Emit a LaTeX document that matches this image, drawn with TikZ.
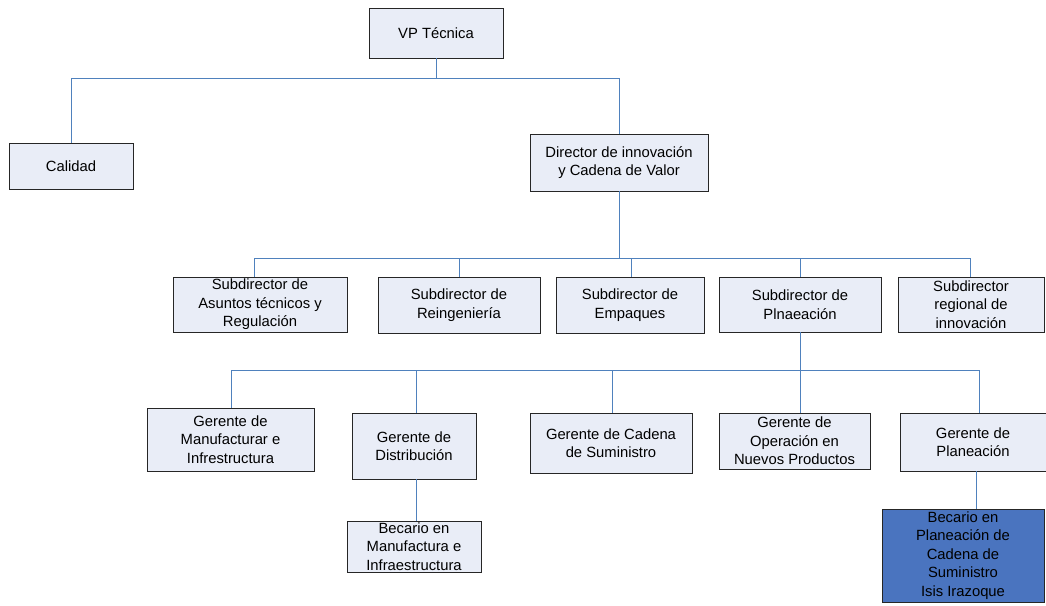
\documentclass[tikz,border=0pt]{standalone}
\usepackage{fontspec}
\setmainfont{Liberation Sans}
\usetikzlibrary{shadows}
\definecolor{linec}{HTML}{4F81BD}
\definecolor{boxfill}{HTML}{E9EDF7}
\definecolor{darkfill}{HTML}{4A74BF}
\tikzset{
  orgbox/.style={draw=black!85, line width=0.9pt, fill=boxfill, align=center, inner sep=0pt,
    font=\fontsize{14.8}{18.5}\selectfont,
    drop shadow={shadow xshift=1.2pt, shadow yshift=-1.2pt, fill=black!45, opacity=1}},
  conn/.style={draw=linec, line width=1pt}
}
\begin{document}
\begin{tikzpicture}[x=1pt,y=-1pt]
\useasboundingbox (0,0) rectangle (1046,605);
% level 0
\node[orgbox, minimum width=134pt, minimum height=50pt] (vp) at (436,33) {VP Técnica};
% level 1
\node[orgbox, minimum width=124pt, minimum height=46pt] (cal) at (71,166) {Calidad};
\node[orgbox, minimum width=178pt, minimum height=57pt] (dir) at (619,162.5) {Director de innovación\\y Cadena de Valor};
% level 2
\node[orgbox, minimum width=174pt, minimum height=55pt] (s1) at (260,304.5) {Subdirector de\\Asuntos técnicos y\\Regulación};
\node[orgbox, minimum width=162pt, minimum height=56pt] (s2) at (459,305) {Subdirector de\\Reingeniería};
\node[orgbox, minimum width=148pt, minimum height=56pt] (s3) at (630,305) {Subdirector de\\Empaques};
\node[orgbox, minimum width=162pt, minimum height=55pt] (s4) at (800,304.5) {Subdirector de\\Plnaeación};
\node[orgbox, minimum width=146pt, minimum height=55pt] (s5) at (971,304.5) {Subdirector\\regional de\\innovación};
% level 3
\node[orgbox, minimum width=167pt, minimum height=63pt] (g1) at (230.5,439.5) {Gerente de\\Manufacturar e\\Infrestructura};
\node[orgbox, minimum width=124pt, minimum height=66pt] (g2) at (414,446) {Gerente de\\Distribución};
\node[orgbox, minimum width=162pt, minimum height=60pt] (g3) at (611,443) {Gerente de Cadena\\de Suministro};
\node[orgbox, minimum width=151pt, minimum height=56pt] (g4) at (794.5,441) {Gerente de\\Operación en\\Nuevos Productos};
\node[orgbox, minimum width=146pt, minimum height=58pt] (g5) at (973,442) {Gerente de\\Planeación};
% level 4
\node[orgbox, minimum width=134pt, minimum height=51pt] (b1) at (414,546.5) {Becario en\\Manufactura e\\Infraestructura};
\node[orgbox, fill=darkfill, minimum width=162pt, minimum height=93pt] (b2) at (963,555.5) {Becario en\\Planeación de\\Cadena de\\Suministro\\Isis Irazoque};
% bus coordinates
\coordinate (bus0) at (436,78);
\coordinate (bus1) at (619,258);
\coordinate (bus2) at (800,370);
% connectors
\draw[conn] (vp.south) -- (bus0);
\draw[conn] (bus0) -| (cal.north);
\draw[conn] (bus0) -| (dir.north);
\draw[conn] (dir.south) -- (bus1);
\foreach \n/\x in {s1/254,s2/459,s3/631,s4/800,s5/970}{
  \draw[conn] (bus1) -| (\n.north -| \x,0);
}
\draw[conn] (s4.south) -- (bus2);
\foreach \n/\x in {g1/231,g2/416,g3/612,g4/800,g5/979}{
  \draw[conn] (bus2) -| (\n.north -| \x,0);
}
\draw[conn] (g2.south -| 416,0) -- (b1.north -| 416,0);
\draw[conn] (g5.south -| 976,0) -- (b2.north -| 976,0);
\end{tikzpicture}
\end{document}
